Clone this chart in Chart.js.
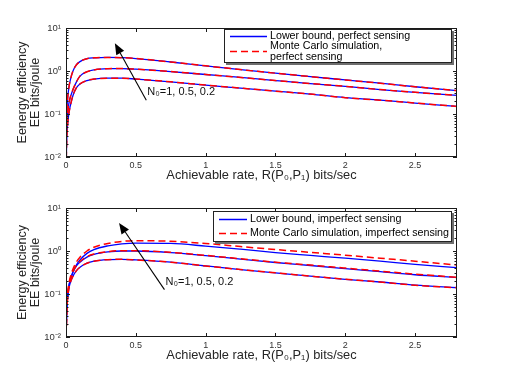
<!DOCTYPE html>
<html><head><meta charset="utf-8">
<script src="https://cdn.jsdelivr.net/npm/chart.js@4.4.0/dist/chart.umd.min.js"></script>
<style>
html,body{margin:0;padding:0;background:#fff;}
#wrap{position:relative;width:505px;height:379px;overflow:hidden;}
canvas{position:absolute;left:0;}
#c1{top:0;} #c2{top:190px;}
</style></head><body>
<div id="wrap"><canvas id="c1" width="505" height="190"></canvas><canvas id="c2" width="505" height="189"></canvas></div>
<script>
// ---- data ----
const rates = [0.001,0.005,0.01,0.02,0.03,0.05,0.075,0.1,0.15,0.2,0.3,0.4,0.5,0.75,1.0,1.25,1.5,1.75,2.0,2.25,2.5,2.8];
// perfect sensing (top panel)
const lbPerfectN02 = [0.02,0.1,0.2,0.4,0.6,1.0,1.4,1.65,1.93,2.02,2.07,2.04,1.95,1.62,1.32,1.08,0.89,0.74,0.62,0.52,0.43,0.35];
const lbPerfectN05 = [0.01,0.05,0.09,0.17,0.24,0.37,0.56,0.76,0.96,1.06,1.13,1.14,1.1,0.97,0.83,0.71,0.6,0.51,0.44,0.37,0.32,0.27];
const lbPerfectN1  = [0.005,0.025,0.05,0.1,0.15,0.27,0.41,0.5,0.6,0.65,0.68,0.68,0.65,0.56,0.47,0.4,0.34,0.29,0.24,0.21,0.18,0.15];
const mcPerfectN02 = [0.02,0.1,0.2,0.4,0.6,1.0,1.4,1.65,1.93,2.02,2.07,2.04,1.95,1.62,1.32,1.08,0.89,0.74,0.62,0.52,0.43,0.35];
const mcPerfectN05 = [0.01,0.05,0.09,0.17,0.24,0.37,0.56,0.76,0.96,1.06,1.13,1.14,1.1,0.97,0.83,0.71,0.6,0.51,0.44,0.37,0.32,0.27];
const mcPerfectN1  = [0.005,0.025,0.05,0.1,0.15,0.27,0.41,0.5,0.6,0.65,0.68,0.68,0.65,0.56,0.47,0.4,0.34,0.29,0.24,0.21,0.18,0.15];
// imperfect sensing (bottom panel)
const lbImperfectN02 = [0.01,0.045,0.08,0.15,0.21,0.33,0.48,0.62,0.88,1.08,1.32,1.47,1.53,1.5,1.3,1.1,0.92,0.79,0.68,0.58,0.49,0.41];
const lbImperfectN05 = [0.01,0.045,0.08,0.15,0.21,0.32,0.45,0.55,0.72,0.83,0.95,1.0,1.0,0.92,0.78,0.65,0.54,0.46,0.39,0.33,0.28,0.24];
const lbImperfectN1  = [0.01,0.04,0.07,0.13,0.18,0.26,0.35,0.42,0.52,0.58,0.63,0.64,0.62,0.55,0.45,0.37,0.31,0.26,0.22,0.19,0.16,0.14];
const mcImperfectN02 = [0.01,0.05,0.09,0.17,0.24,0.38,0.56,0.72,1.0,1.22,1.5,1.67,1.74,1.68,1.5,1.27,1.08,0.93,0.8,0.68,0.58,0.47];
const mcImperfectN05 = [0.01,0.046,0.082,0.155,0.22,0.33,0.46,0.57,0.74,0.85,0.97,1.02,1.02,0.93,0.79,0.66,0.55,0.47,0.4,0.34,0.29,0.245];
const mcImperfectN1  = [0.01,0.04,0.07,0.13,0.18,0.26,0.35,0.42,0.52,0.58,0.63,0.64,0.62,0.55,0.45,0.37,0.31,0.26,0.22,0.19,0.16,0.14];
// ticks
const xTickValues = [0, 0.5, 1, 1.5, 2, 2.5];
const xTickLabels = ['0', '0.5', '1', '1.5', '2', '2.5'];
const yTickValues = [0.01, 0.1, 1, 10];
const yTickLabels = ['10\u207B\u00B2', '10\u207B\u00B9', '10\u2070', '10\u00B9'];
const xRange = [0, 2.8];
const yRange = [0.01, 10];
// text
const xTitle = 'Achievable rate, R(P\u2080,P\u2081) bits/sec';
const yTitleTop = ['Eenergy efficiency', 'EE bits/joule'];
const yTitleBottom = ['Energy efficiency', 'EE bits/joule'];
const annotText = 'N\u2080=1, 0.5, 0.2';
const legendTop = [['Lower bound, perfect sensing'], ['Monte Carlo simulation,', 'perfect sensing']];
const legendBottom = [['Lower bound, imperfect sensing'], ['Monte Carlo simulation, imperfect sensing']];
// annotation arrows in data space: [tailX, tailY, headX, headY]
const arrowTop = [0.575, 0.21, 0.35, 4.4];
const arrowBottom = [0.705, 0.126, 0.38, 4.5];

const FONT = '"Liberation Sans", Arial, Helvetica, sans-serif';
const BLUE = '#0000ff', RED = '#ff0000';

function pts(ys){ return rates.map((x,i)=>({x, y: ys[i]})); }
function lb(ys){ return {data: pts(ys), borderColor: BLUE, borderWidth: 1.3, pointRadius: 0, cubicInterpolationMode: 'monotone', fill: false}; }
function mc(ys){ return {data: pts(ys), borderColor: RED, borderWidth: 1.5, borderDash: [7,4], pointRadius: 0, cubicInterpolationMode: 'monotone', fill: false}; }

const framePlugin = {
  id: 'frame',
  afterDraw(chart){
    const o = chart.options.plugins.frame;
    const {ctx, chartArea: a, scales: {x, y}} = chart;
    ctx.save();
    ctx.strokeStyle = '#1a1a1a'; ctx.lineWidth = 1;
    ctx.beginPath();
    xTickValues.forEach(v => {
      const px = Math.round(x.getPixelForValue(v)) + 0.5;
      ctx.moveTo(px, a.bottom); ctx.lineTo(px, a.bottom - 4);
      ctx.moveTo(px, a.top); ctx.lineTo(px, a.top + 4);
    });
    for (let e = -2; e <= 0; e++) {
      for (let k = 1; k <= 10; k++) {
        const v = k * Math.pow(10, e);
        const py = Math.round(y.getPixelForValue(v)) + 0.5;
        const L = (k === 1 || k === 10) ? 4 : 2.5;
        ctx.moveTo(a.left, py); ctx.lineTo(a.left + L, py);
        ctx.moveTo(a.right, py); ctx.lineTo(a.right - L, py);
      }
    }
    ctx.stroke();
    ctx.strokeRect(Math.round(a.left) + 0.5, Math.round(a.top) + 0.5, Math.round(a.width) - 1, Math.round(a.height) - 1);

    // arrow + annotation
    const [tx, ty, hx, hy] = o.arrow;
    const x1 = x.getPixelForValue(tx), y1 = y.getPixelForValue(ty);
    const x2 = x.getPixelForValue(hx), y2 = y.getPixelForValue(hy);
    const ang = Math.atan2(y2 - y1, x2 - x1);
    const hl = 11, hw = 4.5;
    const bx = x2 - hl * Math.cos(ang), by = y2 - hl * Math.sin(ang);
    ctx.strokeStyle = '#000'; ctx.lineWidth = 1.1;
    ctx.beginPath(); ctx.moveTo(x1, y1); ctx.lineTo(bx, by); ctx.stroke();
    ctx.fillStyle = '#000';
    ctx.beginPath();
    ctx.moveTo(x2, y2);
    ctx.lineTo(bx + hw * Math.sin(ang), by - hw * Math.cos(ang));
    ctx.lineTo(bx - hw * Math.sin(ang), by + hw * Math.cos(ang));
    ctx.closePath(); ctx.fill();
    ctx.font = '11px ' + FONT; ctx.fillStyle = '#111';
    ctx.textBaseline = 'middle'; ctx.textAlign = 'left';
    ctx.fillText(annotText, x1 + 1, y1 - 8);

    // legend box
    const L = o.legend;
    ctx.fillStyle = '#6e6e6e';
    ctx.fillRect(L.x + 2, L.y + 2, L.w, L.h);
    ctx.fillStyle = '#fff';
    ctx.fillRect(L.x, L.y, L.w, L.h);
    ctx.strokeStyle = '#222'; ctx.lineWidth = 1;
    ctx.strokeRect(L.x + 0.5, L.y + 0.5, L.w - 1, L.h - 1);
    ctx.font = '10.7px ' + FONT; ctx.fillStyle = '#000'; ctx.textBaseline = 'middle';
    L.entries.forEach(en => {
      ctx.strokeStyle = en.color; ctx.lineWidth = 1.5;
      ctx.setLineDash(en.dash || []);
      ctx.beginPath(); ctx.moveTo(L.x + L.lineX0, L.y + en.lineY); ctx.lineTo(L.x + L.lineX1, L.y + en.lineY); ctx.stroke();
      ctx.setLineDash([]);
      en.lines.forEach((t, i) => ctx.fillText(t, L.x + L.textX, L.y + en.textY + i * 10.7));
    });
    ctx.restore();
  }
};

function makeChart(id, datasets, yTitle, pad, xAxisH, xTitlePad, frameOpts){
  return new Chart(document.getElementById(id), {
    type: 'line',
    data: {datasets},
    plugins: [framePlugin],
    options: {
      responsive: false, animation: false, devicePixelRatio: 1,
      layout: {padding: pad},
      plugins: {legend: {display: false}, tooltip: {enabled: false}, frame: frameOpts},
      scales: {
        x: {
          type: 'linear', min: xRange[0], max: xRange[1],
          afterBuildTicks: s => { s.ticks = xTickValues.map(v => ({value: v})); },
          afterFit: s => { s.height = xAxisH; },
          grid: {display: false, drawTicks: false}, border: {display: false},
          ticks: {autoSkip: false, maxRotation: 0, padding: 3, color: '#333', font: {family: FONT, size: 9},
                  callback: v => xTickLabels[xTickValues.indexOf(v)] ?? ''},
          title: {display: true, text: xTitle, color: '#262626', font: {family: FONT, size: 12.8, lineHeight: 1.05}, padding: {top: 0, bottom: xTitlePad}}
        },
        y: {
          type: 'logarithmic', min: yRange[0], max: yRange[1],
          afterBuildTicks: s => { s.ticks = yTickValues.map(v => ({value: v})); },
          afterFit: s => { s.width = 66; },
          grid: {display: false, drawTicks: false}, border: {display: false},
          ticks: {autoSkip: false, padding: 5, color: '#333', font: {family: FONT, size: 9.5},
                  callback: v => yTickLabels[yTickValues.findIndex(t => Math.abs(t - v) < 1e-9)] ?? ''},
          title: {display: true, text: yTitle, color: '#262626', font: {family: FONT, size: 12.5, lineHeight: 1.05}, padding: {top: 16, bottom: 0}}
        }
      }
    }
  });
}

makeChart('c1',
  [mc(mcPerfectN02), mc(mcPerfectN05), mc(mcPerfectN1), lb(lbPerfectN02), lb(lbPerfectN05), lb(lbPerfectN1)],
  yTitleTop, {left: 0, right: 48, top: 28, bottom: 0}, 33, 8,
  {arrow: arrowTop, legend: {x: 224, y: 29, w: 228, h: 34, lineX0: 6, lineX1: 43, textX: 46,
    entries: [
      {color: BLUE, lineY: 7.5, textY: 7, lines: legendTop[0]},
      {color: RED, dash: [7,4], lineY: 22.5, textY: 17.5, lines: legendTop[1]}
    ]}});

makeChart('c2',
  [mc(mcImperfectN02), mc(mcImperfectN05), mc(mcImperfectN1), lb(lbImperfectN02), lb(lbImperfectN05), lb(lbImperfectN1)],
  yTitleBottom, {left: 0, right: 48, top: 18, bottom: 0}, 42, 17,
  {arrow: arrowBottom, legend: {x: 213, y: 21, w: 239, h: 31, lineX0: 6, lineX1: 34, textX: 37,
    entries: [
      {color: BLUE, lineY: 8.5, textY: 8.5, lines: legendBottom[0]},
      {color: RED, dash: [7,4], lineY: 22.5, textY: 22.5, lines: legendBottom[1]}
    ]}});
</script>
</body></html>
